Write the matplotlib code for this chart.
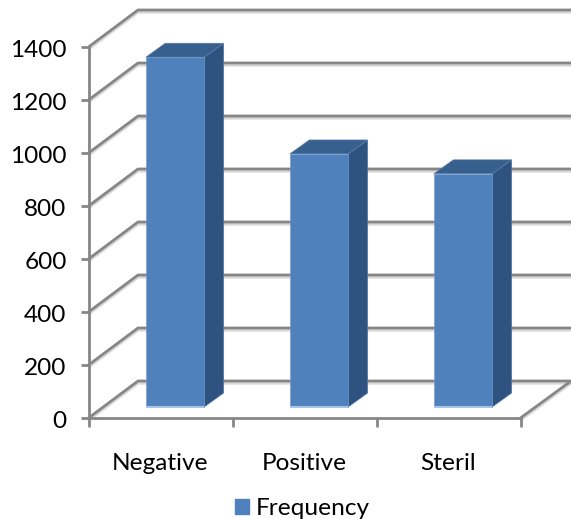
import matplotlib
matplotlib.use("Agg")
import matplotlib.pyplot as plt
import matplotlib.patheffects as pe
from matplotlib.patches import Polygon, Patch
from matplotlib.transforms import ScaledTranslation

categories = ["Negative", "Positive", "Steril"]
frequency = [1320, 955, 880]
y_ticks = [0, 200, 400, 600, 800, 1000, 1200, 1400]
series_name = "Frequency"

W, H = 571, 519
LEFT, RIGHT, BOTTOM, TOP = 88.5, 520.5, 418, 47

plt.rcParams["font.family"] = ["Lato", "DejaVu Sans"]
fig = plt.figure(figsize=(W / 100, H / 100), dpi=100)
ax = fig.add_axes([LEFT / W, 1 - BOTTOM / H, (RIGHT - LEFT) / W, (BOTTOM - TOP) / H])
ax.set_xlim(-0.5, 2.5)
ax.set_ylim(0, 1400)
ax.patch.set_visible(False)

# Pixel-to-data scale factors for the oblique depth offsets
ux = 3 / (RIGHT - LEFT)
uy = 1400 / (BOTTOM - TOP)
wall_dx, wall_dy = 49.5 * ux, 37 * uy
GREY = "#868686"
LW = 2.0
line_fx = [pe.SimpleLineShadow(offset=(0, -1.6), shadow_color="#b0b0b0", alpha=0.5), pe.Normal()]
line_kw = dict(color=GREY, lw=LW, clip_on=False, path_effects=line_fx, solid_capstyle="butt")

# Back wall gridlines with their diagonal returns to the value axis
x_far = -0.5 + (571 - LEFT) * ux
for v in y_ticks:
    ax.plot([-0.5, -0.5 + wall_dx, x_far], [v, v + wall_dy, v + wall_dy], zorder=1, **line_kw)

# Floor edge on the right-hand side
ax.plot([2.5, x_far], [0, wall_dy], zorder=1, **line_kw)

# 3D columns: front face, top and side
bar_w = 58.5 * ux
bar_dx, bar_dy = 19.5 * ux, 14 * uy
base_dx, base_dy = 14.5 * ux, 11 * uy
for i, value in enumerate(frequency):
    x0 = i + base_dx - bar_w / 2
    x1 = x0 + bar_w
    y0 = base_dy
    y1 = base_dy + value
    ax.add_patch(Polygon([(x1, y0), (x1 + bar_dx, y0 + bar_dy), (x1 + bar_dx, y1 + bar_dy), (x1, y1)],
                         fc="#2f5380", ec="#5f80ad", lw=0.4, zorder=3, clip_on=False))
    ax.add_patch(Polygon([(x0, y1), (x0 + bar_dx, y1 + bar_dy), (x1 + bar_dx, y1 + bar_dy), (x1, y1)],
                         fc="#38608f", ec="#5f80ad", lw=0.4, zorder=3, clip_on=False))
    ax.add_patch(Polygon([(x0, y0), (x1, y0), (x1, y1), (x0, y1)],
                         fc="#4f81bd", ec="#6f97cb", lw=0.4, zorder=4, clip_on=False))
    # Pale lower lip of the column
    ax.plot([x0, x1], [y0, y0], color="#a9c4e6", lw=1.5, zorder=5, clip_on=False, solid_capstyle="butt")

# Axes, ticks and labels
for side in ("top", "right"):
    ax.spines[side].set_visible(False)
for side in ("left", "bottom"):
    ax.spines[side].set_color(GREY)
    ax.spines[side].set_linewidth(LW)
    ax.spines[side].set_zorder(2)

FONT = 17.6
ax.set_yticks(y_ticks)
ax.tick_params(axis="y", length=5.8, width=LW, color=GREY, labelsize=FONT, pad=10, labelcolor="black")
ax.set_xticks(range(len(categories)))
ax.set_xticklabels(categories)
ax.set_xticks([-0.5, 0.5, 1.5, 2.5], minor=True)
ax.tick_params(axis="x", which="major", length=0, labelsize=FONT, pad=25.5, labelcolor="black")
ax.tick_params(axis="x", which="minor", length=6.5, width=LW, color=GREY)

# Nudge the value labels down slightly so they sit level with their ticks
nudge = ScaledTranslation(0, -1.5 / 100, fig.dpi_scale_trans)
for label in ax.get_yticklabels():
    label.set_transform(label.get_transform() + nudge)

handle = Patch(fc="#4f81bd", ec="#4f81bd", label=series_name)
fig.legend(handles=[handle], loc="center", bbox_to_anchor=(302.5 / W, 1 - 508.5 / H), frameon=False,
           fontsize=FONT, handlelength=0.58, handleheight=0.6, handletextpad=0.3)

fig.savefig("out.png", dpi=100)
